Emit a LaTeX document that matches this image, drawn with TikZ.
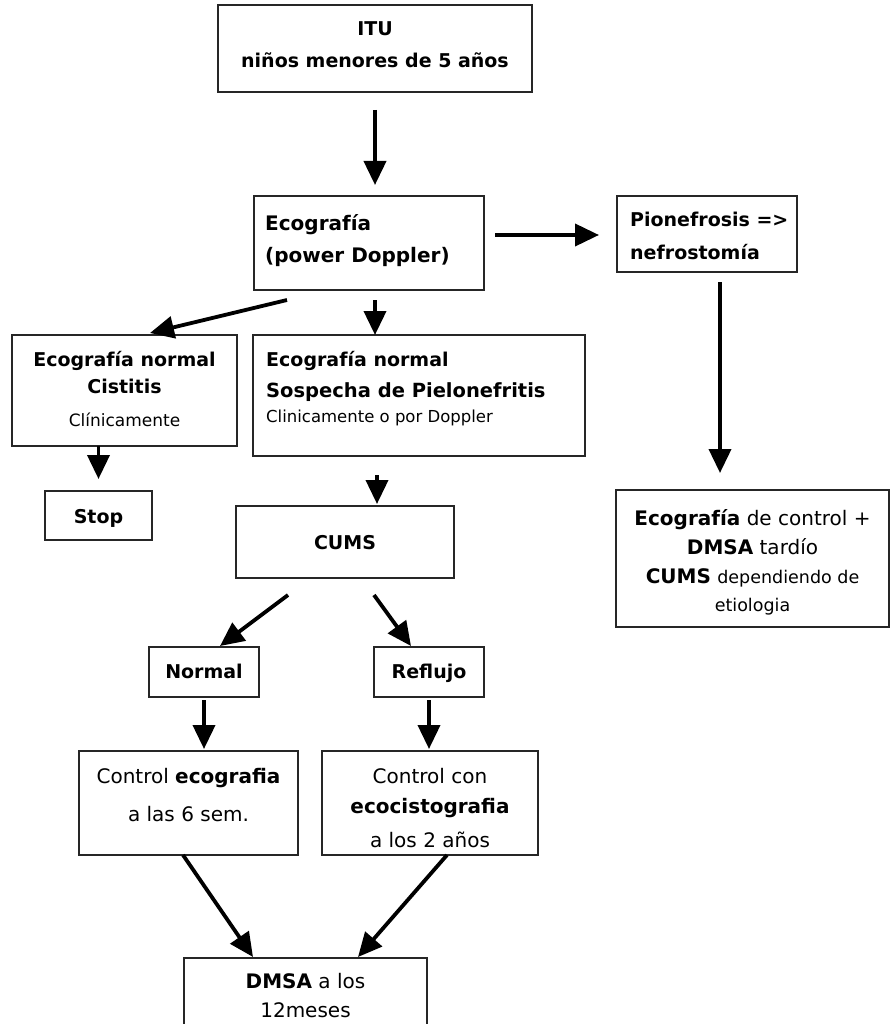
\documentclass[tikz,border=0pt]{standalone}
\usepackage{fontspec}
\setmainfont{DejaVu Sans}
\usetikzlibrary{arrows.meta}
\newcommand{\fsz}[1]{\fontsize{#1}{#1}\selectfont}
\begin{document}
\begin{tikzpicture}[x=1pt,y=-1pt,
  box/.style={draw=black!85, line width=1.4pt, inner sep=0pt, outer sep=0pt},
  tb/.style={anchor=base, inner sep=0pt, font=\fsz{19}\bfseries},
  tr/.style={anchor=base, inner sep=0pt, font=\fsz{20}},
  tlb/.style={anchor=base west, inner sep=0pt, font=\fsz{19}\bfseries},
  tlr/.style={anchor=base west, inner sep=0pt, font=\fsz{16.5}},
  arr/.style={line width=3.8pt, -{Triangle[length=24pt,width=22pt]}},
]
\useasboundingbox (0,0) rectangle (890,1024);

% boxes
\node[box, minimum width=314pt, minimum height=87pt]  (itu)  at (375,48.5) {};
\node[box, minimum width=230pt, minimum height=94pt]  (eco)  at (369,243) {};
\node[box, minimum width=180pt, minimum height=76pt]  (pio)  at (707,234) {};
\node[box, minimum width=225pt, minimum height=111pt] (cis)  at (124.5,390.5) {};
\node[box, minimum width=332pt, minimum height=121pt] (sos)  at (419,395.5) {};
\node[box, minimum width=107pt, minimum height=49pt]  (stop) at (98.5,515.5) {};
\node[box, minimum width=218pt, minimum height=72pt]  (cums) at (345,542) {};
\node[box, minimum width=273pt, minimum height=137pt] (ctrl) at (752.5,558.5) {};
\node[box, minimum width=110pt, minimum height=50pt]  (nor)  at (204,672) {};
\node[box, minimum width=110pt, minimum height=50pt]  (ref)  at (429,672) {};
\node[box, minimum width=219pt, minimum height=104pt] (ce)   at (188.5,803) {};
\node[box, minimum width=216pt, minimum height=104pt] (cc)   at (430,803) {};
\node[box, minimum width=243pt, minimum height=74pt]  (dmsa) at (305.5,995) {};

% texts
\node[tb] (itu1) at (375,36) {ITU};
\node[tb] (itu2) at (375,68) {niños menores de 5 años};

\node[tlb, font=\fsz{20}\bfseries] (eco1) at (265,230) {Ecografía};
\node[tlb, font=\fsz{20}\bfseries] (eco2) at (265,262) {(power Doppler)};

\node[tlb] (pio1) at (630,226) {Pionefrosis =>};
\node[tlb] (pio2) at (630,259) {nefrostomía};

\node[tb] (cis1) at (124.5,366) {Ecografía normal};
\node[tb] (cis2) at (124.5,393) {Cistitis};
\node[tr, font=\fsz{17}] (cis3) at (124.5,426) {Clínicamente};

\node[tlb] (sos1) at (266,366) {Ecografía normal};
\node[tlb, font=\fsz{19.5}\bfseries] (sos2) at (266,397) {Sospecha de Pielonefritis};
\node[tlr] (sos3) at (266,422) {Clinicamente o por Doppler};

\node[tb] (stop1) at (98.5,523) {Stop};
\node[tb] (cums1) at (345,549) {CUMS};

\node[tr] (ctrl1) at (752.5,525) {\textbf{Ecografía} de control +};
\node[tr] (ctrl2) at (752.5,554) {\textbf{DMSA} tardío};
\node[tr] (ctrl3) at (752.5,583) {\textbf{CUMS} {\fsz{17.5}dependiendo de}};
\node[tr, font=\fsz{17.5}] (ctrl4) at (752.5,611) {etiologia};

\node[tb] (nor1) at (204,678) {Normal};
\node[tb] (ref1) at (429,678) {Reflujo};

\node[tr] (ce1) at (188.5,783) {Control \textbf{ecografia}};
\node[tr] (ce2) at (188.5,821) {a las 6 sem.};

\node[tr] (cc1) at (430,783) {Control con};
\node[tr] (cc2) at (430,813) {\textbf{ecocistografia}};
\node[tr] (cc3) at (430,847) {a los 2 años};

\node[tr] (dm1) at (305.5,988) {\textbf{DMSA} a los};
\node[tr] (dm2) at (305.5,1017) {12meses};

% connectors
\draw[arr, shorten <=18pt, shorten >=11pt] (itu.south) -- (itu.south |- eco.north);
\draw[arr, shorten <=11pt, shorten >=18pt] ([yshift=8pt]eco.east) -- ([yshift=8pt]eco.east -| pio.west);
\draw[arr] ([shift={(33,10)}]eco.south west) -- ([shift={(25.5,-2)}]cis.north);
\draw[arr, shorten <=10pt] ([xshift=6pt]eco.south) -- ([xshift=6pt]eco.south |- sos.north);
\draw[arr, shorten >=12pt] (stop.north |- cis.south) -- (stop.north);
\draw[arr, shorten <=10pt, shorten >=17pt] ([xshift=13pt]pio.south) -- ([xshift=13pt]pio.south |- ctrl.north);
\draw[arr, shorten <=19pt, shorten >=2pt] ([xshift=-42pt]sos.south) -- ([xshift=-42pt]sos.south |- cums.north);
\draw[arr] ([shift={(52,17)}]cums.south west) -- ([shift={(16,-1)}]nor.north);
\draw[arr] ([shift={(138,17)}]cums.south west) -- ([shift={(-18,-1)}]ref.north);
\draw[arr, shorten <=3pt, shorten >=2pt] (nor.south) -- (nor.south |- ce.north);
\draw[arr, shorten <=3pt, shorten >=2pt] (ref.south) -- (ref.south |- cc.north);
\draw[arr] ([xshift=-5.5pt]ce.south) -- ([shift={(-52.5,-1)}]dmsa.north);
\draw[arr] ([xshift=17pt]cc.south) -- ([shift={(52.5,-1)}]dmsa.north);
\end{tikzpicture}
\end{document}
